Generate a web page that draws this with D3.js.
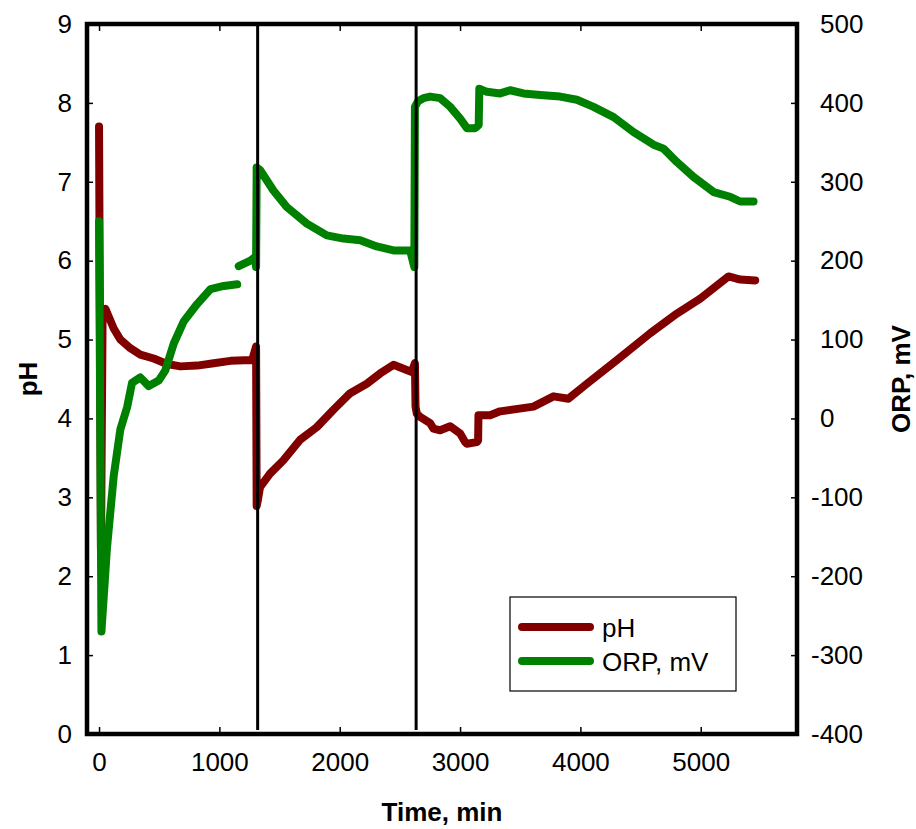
<!DOCTYPE html>
<html>
  <head>
    <meta charset="utf-8">
    <title>pH and ORP vs time</title>
    <style>
      body { margin: 0; background: #fff; }
      svg { display: block; font-family: 'Liberation Sans', Arial, sans-serif; }
      .tick line { stroke: #000; stroke-width: 1.5; }
      .tick text { font-size: 26px; fill: #000; }
      .title { font-size: 26px; font-weight: bold; }
    </style>
  </head>
  <body>
    <div id="chart"></div>
    <script src="https://cdn.jsdelivr.net/npm/d3@7"></script>
    <script>
      // pH series (time in min)
      var phTime = [0, 16, 30, 53, 122, 177, 260, 343, 454, 565, 676, 815, 953, 1092, 1272, 1305, 1310, 1318,
        1338, 1421, 1532, 1671, 1810, 1948, 2087, 2225, 2336, 2447, 2530, 2599, 2625, 2630, 2641, 2668,
        2751, 2779, 2835, 2918, 3001, 3042, 3057, 3140, 3150, 3153, 3250, 3333, 3610, 3777, 3901, 4054,
        4303, 4580, 4802, 4996, 5231, 5328, 5453];
      var phValues = [7.7, 2.34, 5.38, 5.39, 5.14, 5.0, 4.89, 4.81, 4.76, 4.69, 4.66, 4.67, 4.70, 4.73, 4.74, 4.91, 2.89, 2.95,
        3.13, 3.30, 3.47, 3.73, 3.89, 4.11, 4.32, 4.44, 4.57, 4.68, 4.63, 4.59, 4.70, 4.15, 4.06, 4.02,
        3.94, 3.87, 3.85, 3.90, 3.81, 3.70, 3.68, 3.70, 3.72, 4.04, 4.04, 4.09, 4.15, 4.28, 4.25, 4.44,
        4.74, 5.08, 5.33, 5.52, 5.80, 5.76, 5.75];

      // ORP series, mV (null = gap in the record)
      var orpTime = [0, 20, 66, 122, 177, 233, 274, 343, 413, 496, 551, 621, 704, 815, 926, 1037, 1148, 1155,
        1161, 1258, 1300, 1305, 1310, 1338, 1449, 1560, 1727, 1893, 2031, 2170, 2308, 2447, 2585, 2620,
        2625, 2650, 2696, 2751, 2835, 2918, 3001, 3057, 3126, 3155, 3160, 3223, 3333, 3416, 3527, 3666,
        3832, 3971, 4109, 4276, 4442, 4608, 4691, 4802, 4941, 5107, 5245, 5328, 5439];
      var orpValues = [250, -270, -164, -73, -14, 14, 45, 52, 41, 48, 61, 95, 123, 145, 164, 168, 170, null,
        193, 200, 205, 192, 318, 315, 289, 268, 247, 232, 228, 226, 218, 213, 213, 192,
        395, 402, 406, 408, 406, 395, 380, 368, 368, 372, 418, 414, 412, 416, 412, 410,
        408, 404, 395, 382, 363, 347, 342, 325, 306, 287, 281, 275, 275];

      // stage boundaries, min
      var stageLines = [1318, 2635];

      var xTicks = [0, 1000, 2000, 3000, 4000, 5000];
      var phTicks = [0, 1, 2, 3, 4, 5, 6, 7, 8, 9];
      var orpTicks = [-400, -300, -200, -100, 0, 100, 200, 300, 400, 500];

      (function(d3) {
        'use strict';

        var width = 916, height = 829;
        var m = { left: 87, right: 797, top: 24, bottom: 734 };
        var plain = function(d) { return String(d); };   // keep hyphen-minus like the original

        var svg = d3.select('#chart').append('svg')
          .attr('width', width)
          .attr('height', height);

        var x = d3.scaleLinear().domain([-100, 5800]).range([m.left, m.right]);
        var yPH = d3.scaleLinear().domain([0, 9]).range([m.bottom, m.top]);
        var yORP = d3.scaleLinear().domain([-400, 500]).range([m.bottom, m.top]);

        // axes (ticks point inward)
        svg.append('g')
          .attr('transform', 'translate(' + m.left + ',0)')
          .call(d3.axisLeft(yPH).tickValues(phTicks).tickSize(-6).tickPadding(15).tickFormat(plain))
          .call(function(g) { g.select('.domain').remove(); });

        var rAxis = svg.append('g')
          .attr('transform', 'translate(' + m.right + ',0)')
          .call(d3.axisRight(yORP).tickValues(orpTicks).tickSize(-6).tickPadding(23).tickFormat(plain))
          .call(function(g) { g.select('.domain').remove(); });
        // minus sign hangs left of the digits
        rAxis.selectAll('.tick text')
          .filter(function(d) { return d < 0; })
          .attr('x', 23 - 9);

        svg.append('g')
          .attr('transform', 'translate(0,' + m.bottom + ')')
          .call(d3.axisBottom(x).tickValues(xTicks).tickSize(-7).tickPadding(19).tickFormat(plain))
          .call(function(g) { g.select('.domain').remove(); });

        svg.append('g')
          .attr('transform', 'translate(0,' + m.top + ')')
          .call(d3.axisTop(x).tickValues(xTicks).tickSize(-7).tickFormat(''))
          .call(function(g) { g.select('.domain').remove(); });

        // data lines
        var phLine = d3.line()
          .x(function(d, i) { return x(phTime[i]); })
          .y(function(d) { return yPH(d); });

        var orpLine = d3.line()
          .defined(function(d) { return d !== null; })
          .x(function(d, i) { return x(orpTime[i]); })
          .y(function(d) { return yORP(d); });

        svg.append('path')
          .attr('d', phLine(phValues))
          .attr('fill', 'none')
          .attr('stroke', '#800000')
          .attr('stroke-width', 8)
          .attr('stroke-linecap', 'round')
          .attr('stroke-linejoin', 'round');

        svg.append('path')
          .attr('d', orpLine(orpValues))
          .attr('fill', 'none')
          .attr('stroke', '#008000')
          .attr('stroke-width', 8)
          .attr('stroke-linecap', 'round')
          .attr('stroke-linejoin', 'round');

        // vertical stage markers
        svg.selectAll('.stage')
          .data(stageLines)
          .enter()
          .append('line')
          .attr('class', 'stage')
          .attr('x1', function(d) { return x(d); })
          .attr('x2', function(d) { return x(d); })
          .attr('y1', yPH(9))
          .attr('y2', yPH(0) - 4)
          .attr('stroke', '#000')
          .attr('stroke-width', 3);

        // frame
        svg.append('rect')
          .attr('x', m.left)
          .attr('y', m.top)
          .attr('width', m.right - m.left)
          .attr('height', m.bottom - m.top)
          .attr('fill', 'none')
          .attr('stroke', '#000')
          .attr('stroke-width', 4.5);

        // axis titles
        svg.append('text')
          .attr('class', 'title')
          .attr('transform', 'translate(37,' + ((m.top + m.bottom) / 2) + ') rotate(-90)')
          .attr('text-anchor', 'middle')
          .text('pH');

        svg.append('text')
          .attr('class', 'title')
          .attr('transform', 'translate(910,' + ((m.top + m.bottom) / 2) + ') rotate(-90)')
          .attr('text-anchor', 'middle')
          .text('ORP, mV');

        svg.append('text')
          .attr('class', 'title')
          .attr('x', (m.left + m.right) / 2)
          .attr('y', 821)
          .attr('text-anchor', 'middle')
          .text('Time, min');

        // legend
        var legendItems = [
          { label: 'pH', color: '#800000' },
          { label: 'ORP, mV', color: '#008000' }
        ];
        var legend = svg.append('g').attr('transform', 'translate(510,597)');
        legend.append('rect')
          .attr('width', 226)
          .attr('height', 94)
          .attr('fill', '#fff')
          .attr('stroke', '#000')
          .attr('stroke-width', 1.2);
        var item = legend.selectAll('.item')
          .data(legendItems)
          .enter()
          .append('g')
          .attr('transform', function(d, i) { return 'translate(0,' + (30 + i * 34) + ')'; });
        item.append('line')
          .attr('x1', 12)
          .attr('x2', 80)
          .attr('stroke', function(d) { return d.color; })
          .attr('stroke-width', 8)
          .attr('stroke-linecap', 'round');
        item.append('text')
          .attr('x', 92)
          .attr('y', 10)
          .style('font-size', '26px')
          .text(function(d) { return d.label; });
      })(window.d3);
    </script>
  </body>
</html>
